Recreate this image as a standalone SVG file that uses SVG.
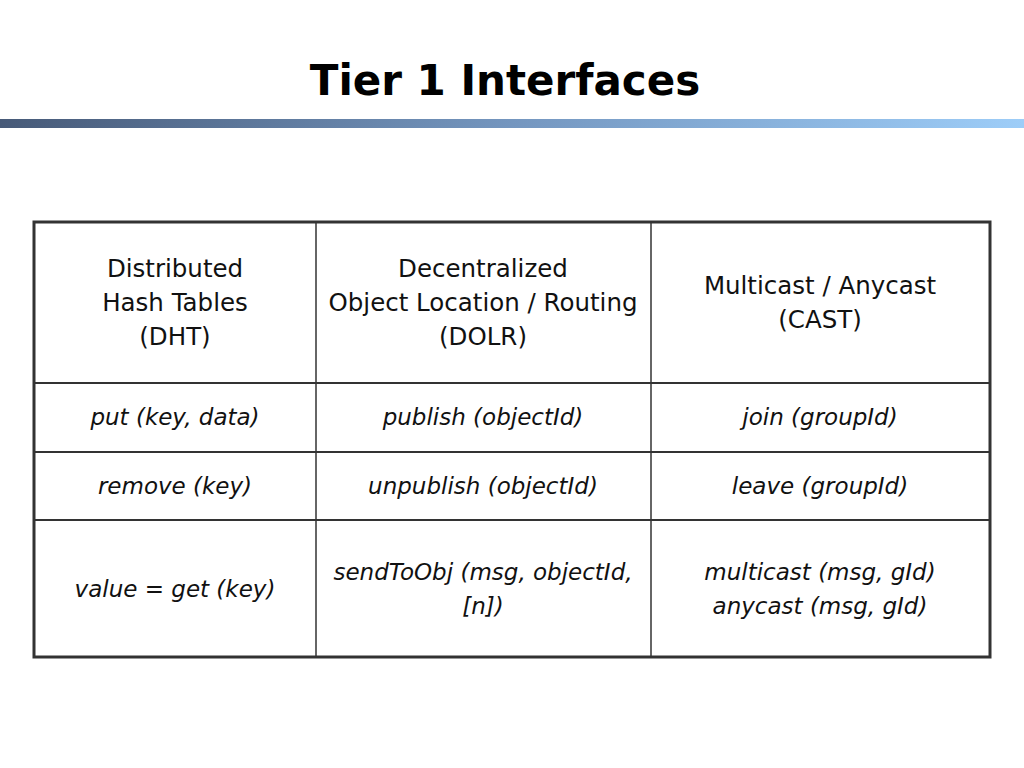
<svg xmlns="http://www.w3.org/2000/svg" width="1024" height="768" viewBox="0 0 1024 768">
<defs>
<linearGradient id="bar" x1="0" y1="0" x2="1" y2="0">
<stop offset="0" stop-color="#475a78"/>
<stop offset="0.5" stop-color="#7496bf"/>
<stop offset="1" stop-color="#9dcdf8"/>
</linearGradient>
</defs>
<style>
.t{font-family:"DejaVu Sans","Liberation Sans",sans-serif;font-size:24.5px;fill:#111;text-anchor:middle}
.i{font-style:italic;font-size:23px}
.title{font-family:"DejaVu Sans","Liberation Sans",sans-serif;font-size:42px;font-weight:bold;fill:#000;text-anchor:middle}
.grid{stroke:#333;fill:none}
</style>
<rect width="1024" height="768" fill="#fff"/>
<text class="title" x="505" y="95">Tier 1 Interfaces</text>
<rect x="0" y="119" width="1024" height="9" fill="url(#bar)"/>
<g id="table">
<rect class="grid" x="34" y="222" width="956" height="435" stroke-width="3"/>
<line class="grid" x1="316" y1="222" x2="316" y2="657" stroke-width="1.5"/>
<line class="grid" x1="651" y1="222" x2="651" y2="657" stroke-width="1.5"/>
<line class="grid" x1="34" y1="383" x2="990" y2="383" stroke-width="2"/>
<line class="grid" x1="34" y1="452" x2="990" y2="452" stroke-width="2"/>
<line class="grid" x1="34" y1="520" x2="990" y2="520" stroke-width="2"/>
</g>
<g id="header">
<text class="t" x="175" y="277">Distributed</text>
<text class="t" x="175" y="311">Hash Tables</text>
<text class="t" x="175" y="345">(DHT)</text>
<text class="t" x="483" y="277">Decentralized</text>
<text class="t" x="483" y="311">Object Location / Routing</text>
<text class="t" x="483" y="345">(DOLR)</text>
<text class="t" x="820" y="294">Multicast / Anycast</text>
<text class="t" x="820" y="328">(CAST)</text>
</g>
<g id="rows">
<text class="t i" x="175" y="425">put (key, data)</text>
<text class="t i" x="483" y="425">publish (objectId)</text>
<text class="t i" x="820" y="425">join (groupId)</text>
<text class="t i" x="175" y="494">remove (key)</text>
<text class="t i" x="483" y="494">unpublish (objectId)</text>
<text class="t i" x="820" y="494">leave (groupId)</text>
<text class="t i" x="175" y="597">value = get (key)</text>
<text class="t i" x="483" y="580">sendToObj (msg, objectId,</text>
<text class="t i" x="483" y="614">[n])</text>
<text class="t i" x="820" y="580">multicast (msg, gId)</text>
<text class="t i" x="820" y="614">anycast (msg, gId)</text>
</g>
</svg>
